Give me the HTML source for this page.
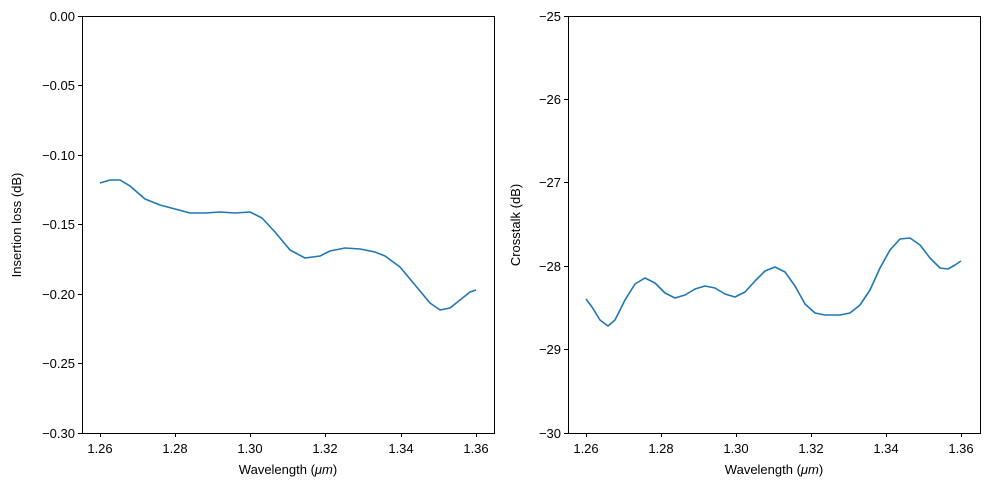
<!DOCTYPE html>
<html><head><style>body{margin:0;background:#fff}svg{display:block}text{font-family:"Liberation Sans","DejaVu Sans",sans-serif;font-size:13px;fill:#000}</style></head><body>
<svg width="989" height="490" viewBox="0 0 989 490">
<g stroke="#000" stroke-width="1" fill="none">
<rect x="82.5" y="16.5" width="412" height="417"/>
<rect x="568.5" y="16.5" width="412" height="417"/>
<path d="M100.5 433v4M175.5 433v4M250.5 433v4M325.5 433v4M401.5 433v4M476.5 433v4
M82 16.5h-4M82 85.5h-4M82 155.5h-4M82 224.5h-4M82 294.5h-4M82 363.5h-4M82 433.5h-4
M586.5 433v4M661.5 433v4M736.5 433v4M811.5 433v4M886.5 433v4M961.5 433v4
M568 16.5h-4M568 99.5h-4M568 182.5h-4M568 266.5h-4M568 349.5h-4M568 433.5h-4"/>
</g>
<g text-anchor="middle">
<text x="100" y="453">1.26</text><text x="175" y="453">1.28</text><text x="250" y="453">1.30</text><text x="325" y="453">1.32</text><text x="401" y="453">1.34</text><text x="476" y="453">1.36</text>
<text x="586" y="453">1.26</text><text x="661" y="453">1.28</text><text x="736" y="453">1.30</text><text x="811" y="453">1.32</text><text x="886" y="453">1.34</text><text x="961" y="453">1.36</text>
<text x="288" y="474">Wavelength (<tspan font-style="italic">μm</tspan>)</text>
<text x="774" y="474">Wavelength (<tspan font-style="italic">μm</tspan>)</text>
<text transform="translate(21,225) rotate(-90)">Insertion loss (dB)</text>
<text transform="translate(520,225) rotate(-90)">Crosstalk (dB)</text>
</g>
<g text-anchor="end">
<text x="75" y="21">0.00</text><text x="75" y="90">−0.05</text><text x="75" y="160">−0.10</text><text x="75" y="229">−0.15</text><text x="75" y="299">−0.20</text><text x="75" y="368">−0.25</text><text x="75" y="438">−0.30</text>
<text x="561" y="21">−25</text><text x="561" y="104">−26</text><text x="561" y="187">−27</text><text x="561" y="271">−28</text><text x="561" y="354">−29</text><text x="561" y="438">−30</text>
</g>
<g fill="none" stroke="#1f77b4" stroke-width="1.6" stroke-linejoin="round">
<polyline points="100,183 110,180 120,180 130,186 145,199 160,205 175,209 190,213 205,213 220,212 235,213 250,212 262,218 275,232 290,250 305,258 320,256 330,251 345,248 360,249 375,252 385,256 400,267 415,285 430,303 440,310 450,308 460,300 470,292 476,290"/>
<polyline points="586,299 592,307 600,320 608,326 615,320 625,300 635,284 645,278 655,283 665,293 675,298 685,295 695,289 705,286 715,288 725,294 735,297 745,292 755,281 765,271 775,267 785,272 795,286 805,304 815,313 825,315 840,315 850,313 860,305 870,290 880,268 890,250 900,239 910,238 920,245 930,258 940,268 948,269 955,265 961,261"/>
</g>
</svg></body></html>
